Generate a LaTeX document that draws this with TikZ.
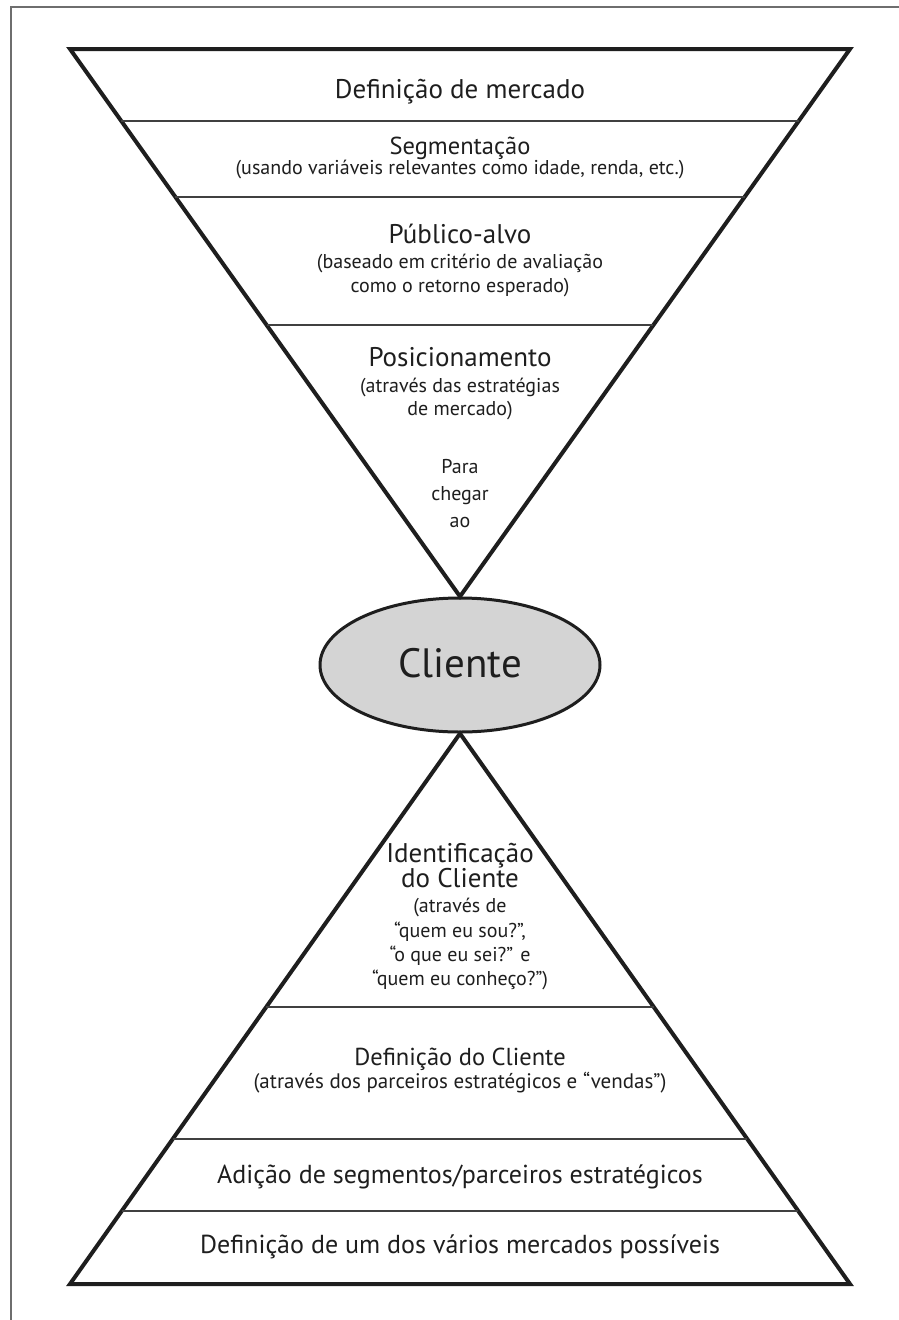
\documentclass[tikz,border=0pt]{standalone}
\usepackage{fontspec}
\setmainfont{PT Sans}
\usetikzlibrary{shapes.geometric,calc}
\definecolor{ink}{HTML}{1E1E1E}
\definecolor{framegray}{HTML}{6E6E6E}
\definecolor{clientfill}{HTML}{D4D4D4}
\tikzset{
  outline/.style={line width=4pt, line join=miter, draw=ink},
  divider/.style={line width=1.8pt, draw=ink!85},
  head/.style={anchor=base, text=ink, inner sep=0pt, font=\fontsize{27}{30}\selectfont},
  headmid/.style={head, font=\fontsize{26}{29}\selectfont},
  headsmall/.style={head, font=\fontsize{24.5}{27}\selectfont},
  sub/.style={anchor=base, text=ink, inner sep=0pt, font=\fontsize{20}{24}\selectfont},
}
\begin{document}
\begin{tikzpicture}[x=1pt, y=-1pt]
\useasboundingbox (0,0) rectangle (899,1320);
\fill[white] (0,0) rectangle (899,1320);
% page frame (top and left rules)
\draw[framegray, line width=2.6pt] (11,1320) -- (11,7) -- (899,7);

% central ellipse
\node[ellipse, draw=ink, line width=3pt, fill=clientfill, minimum width=280pt,
      minimum height=134pt, inner sep=0pt] (cliente) at (460,665) {};
\node[anchor=base, text=ink, font=\fontsize{41}{44}\selectfont] (clientetxt) at (460,677) {Cliente};

% upper (inverted) triangle
\coordinate (TL) at (70,49);
\coordinate (TR) at (850,49);
\coordinate (TA) at (cliente.north);
\draw[outline] (TL) -- (TR) -- (TA) -- cycle;
\foreach \t [count=\i] in {0.1311,0.2696,0.5046}{
  \coordinate (ul\i) at ($(TL)!\t!(TA)$);
  \coordinate (ur\i) at ($(TR)!\t!(TA)$);
  \draw[divider] (ul\i) -- (ur\i);
}

% lower triangle
\coordinate (BA) at (cliente.south);
\coordinate (BL) at (70,1284);
\coordinate (BR) at (850,1284);
\draw[outline] (BA) -- (BR) -- (BL) -- cycle;
\foreach \t [count=\i] in {0.4973,0.7368,0.8675}{
  \coordinate (ll\i) at ($(BA)!\t!(BL)$);
  \coordinate (lr\i) at ($(BA)!\t!(BR)$);
  \draw[divider] (ll\i) -- (lr\i);
}

% upper bands
\node[head] (mercado) at (460,98) {Definição de mercado};
\node[headsmall] (segm) at (460,154) {Segmentação};
\node[sub] (segmsub) at (460,174) {(usando variáveis relevantes como idade, renda, etc.)};
\node[head] (publico) at (460,243) {Público-alvo};
\node[sub] (publicoa) at (460,268) {(baseado em critério de avaliação};
\node[sub] (publicob) at (460,292) {como o retorno esperado)};
\node[head] (posic) at (460,366) {Posicionamento};
\node[sub] (posica) at (460,392) {(através das estratégias};
\node[sub] (posicb) at (460,415) {de mercado)};
\node[sub] (para) at (460,473) {Para};
\node[sub] (chegar) at (460,500) {chegar};
\node[sub] (ao) at (460,527) {ao};

% lower bands
\node[head] (ident) at (460,862) {Identificação};
\node[head] (identb) at (460,887) {do Cliente};
\node[sub] (identc) at (460,912) {(através de};
\node[sub] (identd) at (460,937) {“quem eu sou?”,};
\node[sub] (idente) at (460,961) {“o que eu sei?” e};
\node[sub] (identf) at (460,985) {“quem eu conheço?”)};
\node[headsmall] (defcli) at (460,1065) {Definição do Cliente};
\node[sub, font=\fontsize{21}{24}\selectfont] (defclisub) at (460,1088) {(através dos parceiros estratégicos e “vendas”)};
\node[headmid] (adicao) at (460,1183) {Adição de segmentos/parceiros estratégicos};
\node[headmid] (defum) at (460,1253) {Definição de um dos vários mercados possíveis};
\end{tikzpicture}
\end{document}
